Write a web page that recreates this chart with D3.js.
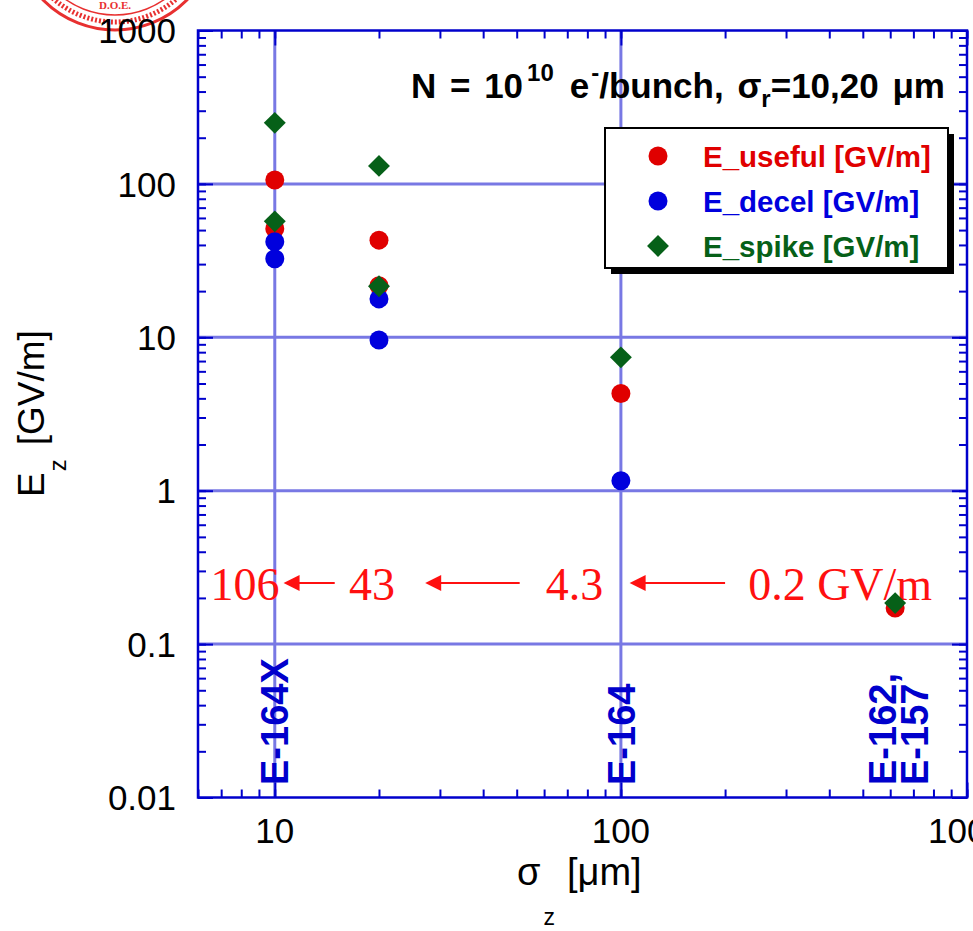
<!DOCTYPE html>
<html>
<head>
<meta charset="utf-8">
<script src="https://cdn.jsdelivr.net/npm/d3@7"></script>
<style>
  body { margin: 0; background: #fff; }
  svg { font-family: "Liberation Sans", Arial, sans-serif; }
</style>
</head>
<body>
<script>
// data
const usefulX = [10, 10, 20, 20, 100, 620];
const usefulY = [106, 51, 43, 21.7, 4.3, 0.172];
const decelX = [10, 10, 20, 20, 100];
const decelY = [42, 32.5, 17.8, 9.6, 1.16];
const spikeX = [10, 10, 20, 20, 100, 620];
const spikeY = [250, 57, 131, 21.5, 7.4, 0.185];

const xTickValues = [10, 100, 1000];
const yTickValues = [0.01, 0.1, 1, 10, 100, 1000];
const yTickLabels = ["0.01", "0.1", "1", "10", "100", "1000"];

const expNames = ["E-164X", "E-164", "E-162,", "E-157"];
const expSigma = [10, 100, 570, 705];

const annoLabels = ["106", "43", "4.3", "0.2 GV/m"];
const annoX = [8.2, 19.1, 73.5, 430];
const annoY = 0.25;
const arrowFrom = [14.9, 51, 200];
const arrowTo = [10.6, 27.2, 106];

const legendNames = ["E_useful [GV/m]", "E_decel [GV/m]", "E_spike [GV/m]"];
const colors = ["#e00000", "#0000dd", "#066018"];

const W = 973, H = 931;
const svg = d3.select("body").append("svg")
  .attr("width", W).attr("height", H)
  .attr("xmlns", "http://www.w3.org/2000/svg");
svg.append("rect").attr("width", W).attr("height", H).attr("fill", "#fff");

const pLeft = 198, pRight = 967, pTop = 30.5, pBottom = 797.5;
const x = d3.scaleLog().domain([6, 1000]).range([pLeft, pRight]);
const y = d3.scaleLog().domain([0.01, 1000]).range([pBottom, pTop]);

// stamp in the corner
const stamp = svg.append("g").attr("transform", "translate(115,-71)");
stamp.append("circle").attr("r", 101).attr("fill", "none").attr("stroke", "#e83030").attr("stroke-width", 3);
stamp.append("circle").attr("r", 93).attr("fill", "none").attr("stroke", "#e83030")
  .attr("stroke-width", 5).attr("stroke-dasharray", "2,2");
stamp.append("circle").attr("r", 86).attr("fill", "none").attr("stroke", "#e83030").attr("stroke-width", 1.5);
stamp.append("text").attr("x", 0).attr("y", 80).attr("text-anchor", "middle")
  .attr("fill", "#e83030").attr("font-size", 11).attr("font-weight", "bold")
  .attr("font-family", "Liberation Serif").text("D.O.E.");

// gridlines
const grid = svg.append("g").attr("stroke", "#7878e4").attr("stroke-width", 3);
grid.selectAll(".gx").data([10, 100]).enter().append("line")
  .attr("x1", d => x(d)).attr("x2", d => x(d)).attr("y1", pTop).attr("y2", pBottom);
grid.selectAll(".gy").data(yTickValues.slice(1, 5)).enter().append("line")
  .attr("y1", d => y(d)).attr("y2", d => y(d)).attr("x1", pLeft).attr("x2", pRight);

// axes with inward ticks
const frameColor = "#0000cc";
function styleAxis(g) {
  g.select(".domain").remove();
  g.selectAll("line").attr("stroke", frameColor).attr("stroke-width", 2);
  g.selectAll("text").remove();
}
const xMinor = x.ticks().filter(d => d >= 6);
const yMinor = y.ticks();
svg.append("g").attr("transform", `translate(0,${pBottom})`)
  .call(d3.axisTop(x).tickValues(xMinor).tickSize(8)).call(styleAxis);
svg.append("g").attr("transform", `translate(0,${pBottom})`)
  .call(d3.axisTop(x).tickValues(xTickValues).tickSize(15)).call(styleAxis);
svg.append("g").attr("transform", `translate(0,${pTop})`)
  .call(d3.axisBottom(x).tickValues(xMinor).tickSize(8)).call(styleAxis);
svg.append("g").attr("transform", `translate(0,${pTop})`)
  .call(d3.axisBottom(x).tickValues(xTickValues).tickSize(15)).call(styleAxis);
svg.append("g").attr("transform", `translate(${pLeft},0)`)
  .call(d3.axisRight(y).tickValues(yMinor).tickSize(8)).call(styleAxis);
svg.append("g").attr("transform", `translate(${pLeft},0)`)
  .call(d3.axisRight(y).tickValues(yTickValues).tickSize(15)).call(styleAxis);
svg.append("g").attr("transform", `translate(${pRight},0)`)
  .call(d3.axisLeft(y).tickValues(yMinor).tickSize(8)).call(styleAxis);
svg.append("g").attr("transform", `translate(${pRight},0)`)
  .call(d3.axisLeft(y).tickValues(yTickValues).tickSize(15)).call(styleAxis);

svg.append("rect").attr("x", pLeft).attr("y", pTop)
  .attr("width", pRight - pLeft).attr("height", pBottom - pTop)
  .attr("fill", "none").attr("stroke", frameColor).attr("stroke-width", 2.5);

// tick labels
svg.selectAll(".ylab").data(yTickValues).enter().append("text")
  .attr("x", 176).attr("y", d => y(d)).attr("dy", "0.36em")
  .attr("text-anchor", "end").attr("font-size", 35).attr("fill", "#000")
  .text((d, i) => yTickLabels[i]);
svg.selectAll(".xlab").data(xTickValues).enter().append("text")
  .attr("x", d => x(d)).attr("y", 843)
  .attr("text-anchor", "middle").attr("font-size", 35).attr("fill", "#000")
  .text(d => d);

// axis titles
const xt = svg.append("text").attr("x", 517).attr("y", 885).attr("font-size", 38).attr("fill", "#000");
xt.append("tspan").text("σ");
xt.append("tspan").attr("font-size", 23).attr("dx", 3).attr("dy", 40).text("z");
xt.append("tspan").attr("dx", 12).attr("dy", -40).text("[μm]");

const yt = svg.append("text").attr("transform", "translate(44,497) rotate(-90)")
  .attr("font-size", 37).attr("fill", "#000");
yt.append("tspan").text("E");
yt.append("tspan").attr("font-size", 24).attr("dx", 1).attr("dy", 22).text("z");
yt.append("tspan").attr("dx", 14).attr("dy", -22).text("[GV/m]");

// title
const tt = svg.append("text").attr("x", 945).attr("y", 98).attr("text-anchor", "end")
  .attr("font-size", 35).attr("font-weight", "bold").attr("fill", "#000")
  .attr("word-spacing", 4);
tt.append("tspan").text("N = 10");
tt.append("tspan").attr("font-size", 24).attr("dx", 4).attr("dy", -17).text("10");
tt.append("tspan").attr("dx", 16).attr("dy", 17).text("e");
tt.append("tspan").attr("font-size", 24).attr("dx", 2).attr("dy", -17).text("-");
tt.append("tspan").attr("dy", 17).text("/bunch, σ");
tt.append("tspan").attr("font-size", 24).attr("dy", 9).text("r");
tt.append("tspan").attr("dy", -9).text("=10,20 μm");

// experiment labels
svg.selectAll(".exp").data(expNames).enter().append("text")
  .attr("transform", (d, i) => `translate(${x(expSigma[i])},785) rotate(-90)`)
  .attr("dy", "0.36em").attr("font-size", 38).attr("font-weight", "bold")
  .attr("fill", "#0000cc").text(d => d);

// annotation row
svg.selectAll(".anno").data(annoLabels).enter().append("text")
  .attr("x", (d, i) => x(annoX[i])).attr("y", y(annoY)).attr("dy", "0.36em")
  .attr("text-anchor", "middle").attr("font-family", "Liberation Serif")
  .attr("font-size", 46).attr("fill", "#ff1010").text(d => d);
svg.selectAll(".arr").data(arrowFrom).enter().append("line")
  .attr("x1", d => x(d)).attr("x2", (d, i) => x(arrowTo[i]) + 12)
  .attr("y1", y(annoY)).attr("y2", y(annoY))
  .attr("stroke", "#ff1010").attr("stroke-width", 2);
svg.selectAll(".arrh").data(arrowTo).enter().append("path")
  .attr("d", d => `M${x(d)},${y(annoY)} l16,-8 l0,16 Z`).attr("fill", "#ff1010");

// points
const r = 9.5;
svg.selectAll(".useful").data(usefulY).enter().append("circle")
  .attr("cx", (d, i) => x(usefulX[i])).attr("cy", d => y(d)).attr("r", r).attr("fill", colors[0]);
svg.selectAll(".decel").data(decelY).enter().append("circle")
  .attr("cx", (d, i) => x(decelX[i])).attr("cy", d => y(d)).attr("r", r).attr("fill", colors[1]);
const diamond = d3.symbol().type(d3.symbolSquare).size(240);
svg.selectAll(".spike").data(spikeY).enter().append("path")
  .attr("d", diamond)
  .attr("transform", (d, i) => `translate(${x(spikeX[i])},${y(d)}) rotate(45)`)
  .attr("fill", colors[2]);

// legend
const lg = svg.append("g").attr("transform", "translate(605,128)");
lg.append("rect").attr("x", 6).attr("y", 6).attr("width", 343).attr("height", 140).attr("fill", "#000");
lg.append("rect").attr("width", 343).attr("height", 140).attr("fill", "#fff")
  .attr("stroke", "#000").attr("stroke-width", 2);
legendNames.forEach((name, i) => {
  const cy = 28 + i * 45;
  if (i < 2) {
    lg.append("circle").attr("cx", 53).attr("cy", cy).attr("r", r).attr("fill", colors[i]);
  } else {
    lg.append("path").attr("d", diamond).attr("transform", `translate(53,${cy}) rotate(45)`).attr("fill", colors[i]);
  }
  lg.append("text").attr("x", 98).attr("y", cy).attr("dy", "0.36em")
    .attr("font-size", 29.5).attr("font-weight", "bold").attr("fill", colors[i]).text(name);
});
</script>
</body>
</html>
